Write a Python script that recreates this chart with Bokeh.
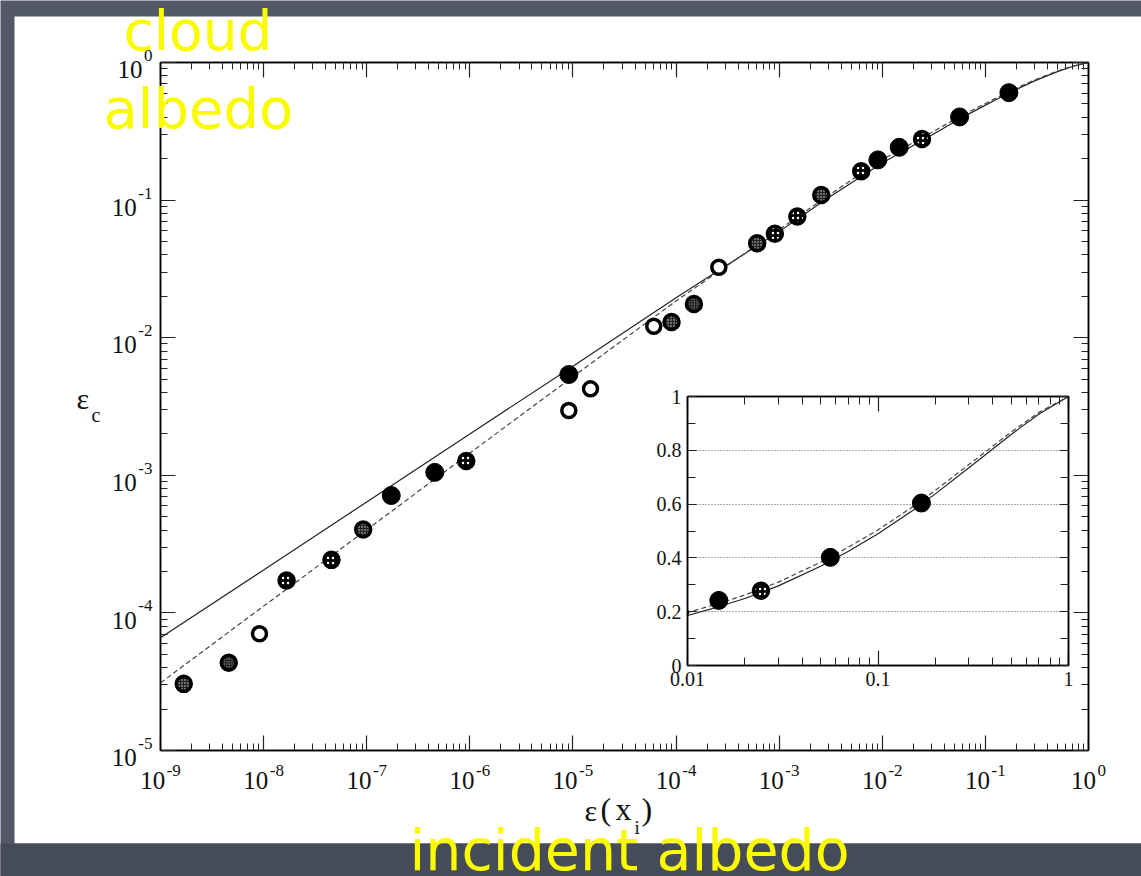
import math
from bokeh.plotting import figure
from bokeh.models import Range1d, LogAxis, LinearAxis, FixedTicker, Label, BoxAnnotation
from bokeh.embed import file_html
from bokeh.resources import INLINE

# ---------------- data ----------------
curve_x = [1e-9, 1e-8, 1e-7, 1e-6, 1e-5, 1e-4, 1e-3, 3e-3, 1e-2, 0.015, 0.02, 0.03,
           0.05, 0.07, 0.1, 0.15, 0.2, 0.3, 0.5, 0.7, 1.0]
solid_y = [6.6e-5, 2.05e-4, 6.4e-4, 2.0e-3, 6.2e-3, 1.95e-2, 5.9e-2, 0.104, 0.186, 0.221,
           0.249, 0.296, 0.369, 0.425, 0.490, 0.573, 0.638, 0.735, 0.859, 0.935, 1.0]
dashed_y = [3.1e-5, 1.12e-4, 4.02e-4, 1.45e-3, 5.2e-3, 1.85e-2, 6.1e-2, 0.108, 0.197, 0.233,
            0.262, 0.310, 0.384, 0.440, 0.504, 0.587, 0.651, 0.747, 0.868, 0.941, 1.0]

filled_x = [1.73e-7, 4.57e-7, 9.12e-6, 9.06e-3, 1.46e-2, 5.62e-2, 0.169]
filled_y = [7.13e-4, 1.05e-3, 5.40e-3, 0.196, 0.242, 0.402, 0.604]
open_x = [9.12e-9, 9.12e-6, 1.48e-5, 6.08e-5, 2.60e-4]
open_y = [7.05e-5, 2.96e-3, 4.25e-3, 1.21e-2, 3.25e-2]
checker_x = [1.68e-9, 9.24e-8, 9.04e-5, 6.12e-4, 2.56e-3]
checker_y = [3.05e-5, 4.04e-4, 1.30e-2, 4.86e-2, 0.109]
shaded_x = [4.59e-9, 1.49e-4]
shaded_y = [4.34e-5, 1.76e-2]
dotted_x = [1.67e-8, 4.55e-8, 9.23e-7, 9.08e-4, 1.50e-3, 6.25e-3, 2.43e-2]
dotted_y = [1.72e-4, 2.43e-4, 1.27e-3, 5.69e-2, 7.60e-2, 0.162, 0.278]

main_xticks = [1e-9, 1e-8, 1e-7, 1e-6, 1e-5, 1e-4, 1e-3, 1e-2, 1e-1, 1.0]
main_xtick_exps = ["-9", "-8", "-7", "-6", "-5", "-4", "-3", "-2", "-1", "0"]
main_yticks = [1e-5, 1e-4, 1e-3, 1e-2, 1e-1, 1.0]
main_ytick_exps = ["-5", "-4", "-3", "-2", "-1", "0"]

inset_xticks = [0.01, 0.1, 1.0]
inset_xtick_labels = ["0.01", "0.1", "1"]
inset_yticks = [0.0, 0.2, 0.4, 0.6, 0.8, 1.0]
inset_ytick_labels = ["0", "0.2", "0.4", "0.6", "0.8", "1"]
inset_yminor = [0.1, 0.3, 0.5, 0.7, 0.9]
inset_grid = [0.2, 0.4, 0.6, 0.8]

# ---------------- styling constants ----------------
SERIF = "Liberation Serif"
SANS = "DejaVu Sans"
DARK = "#525868"
DARK2 = "#464b59"
YELLOW = "#fbfb00"
INK = "#111111"

W, H = 1141, 876
FL, FR, FT, FB = 160, 1088, 62, 750   # main frame edges in page pixels
DX = (FR - FL) / 9.0
DY = (FB - FT) / 5.0


def abs_style(left, top):
    return {"position": "absolute", "left": "%dpx" % left, "top": "%dpx" % top}


def plain_canvas(styles=None):
    kw = dict(width=W, height=H, x_range=Range1d(0, W), y_range=Range1d(H, 0),
              output_backend="svg", toolbar_location=None,
              x_axis_location=None, y_axis_location=None, min_border=0)
    if styles:
        kw["styles"] = styles
    f = figure(**kw)
    f.outline_line_color = None
    f.xgrid.visible = False
    f.ygrid.visible = False
    return f


# ---------- layer 1: slide background with white panel ----------
bg = plain_canvas()
bg.background_fill_color = DARK
bg.border_fill_color = DARK
bg.add_layout(BoxAnnotation(left=14, right=W + 10, top=16, bottom=843, fill_color="white",
                            fill_alpha=1.0, line_color=None))
bg.add_layout(BoxAnnotation(left=-10, right=W + 10, top=843, bottom=H + 10, fill_color=DARK2,
                            fill_alpha=1.0, line_color=None))

# ---------- layer 2: the main log-log plot ----------
p = figure(width=W, height=H, x_axis_type="log", y_axis_type="log",
           x_range=Range1d(1e-9, 1.0), y_range=Range1d(1e-5, 1.0),
           output_backend="svg", toolbar_location=None,
           min_border_left=FL, min_border_right=W - FR,
           min_border_top=FT, min_border_bottom=H - FB,
           styles=abs_style(0, 0))
p.border_fill_alpha = 0.0
p.background_fill_alpha = 0.0
p.outline_line_color = "black"
p.outline_line_width = 1.5
p.xgrid.visible = False
p.ygrid.visible = False

xminor = [m * 10.0 ** k for k in range(-9, 0) for m in range(2, 10)]
yminor = [m * 10.0 ** k for k in range(-5, 0) for m in range(2, 10)]


def style_axis(ax, ticks, minor, major_len=15, minor_len=7):
    ax.ticker = FixedTicker(ticks=ticks, minor_ticks=minor)
    ax.major_tick_in = major_len
    ax.major_tick_out = 0
    ax.minor_tick_in = minor_len
    ax.minor_tick_out = 0
    ax.axis_line_width = 1.5
    ax.axis_line_color = "black"
    ax.major_tick_line_color = "#222222"
    ax.minor_tick_line_color = "#222222"
    ax.major_tick_line_width = 1.2
    ax.minor_tick_line_width = 1.0
    ax.major_label_text_color = None
    ax.major_label_text_font_size = "0px"
    ax.major_label_standoff = 0


style_axis(p.xaxis[0], main_xticks, xminor)
style_axis(p.yaxis[0], main_yticks, yminor)
top_ax = LogAxis()
style_axis(top_ax, main_xticks, xminor)
p.add_layout(top_ax, "above")
right_ax = LogAxis()
style_axis(right_ax, main_yticks, yminor)
p.add_layout(right_ax, "right")


def add_curves_and_points(fig):
    fig.line(curve_x, solid_y, line_color="#222222", line_width=1.2)
    fig.line(curve_x, dashed_y, line_color="#444444", line_width=1.2, line_dash="5 3")
    fig.scatter(open_x, open_y, marker="circle", size=14, fill_color="white",
                line_color="black", line_width=3.5)
    fig.scatter(checker_x, checker_y, marker="circle", size=15, fill_color="#222222",
                hatch_pattern="dot", hatch_color="#e0e0e0", hatch_scale=3, hatch_weight=1,
                line_color="black", line_width=3.5)
    fig.scatter(shaded_x, shaded_y, marker="circle", size=15, fill_color="#222222",
                hatch_pattern="dot", hatch_color="#a0a0a0", hatch_scale=2.5, hatch_weight=1,
                line_color="black", line_width=3.5)
    fig.scatter(dotted_x, dotted_y, marker="circle", size=15, fill_color="black",
                hatch_pattern="dot", hatch_color="white", hatch_scale=5, hatch_weight=1.6,
                line_color="black", line_width=3.5)
    fig.scatter(filled_x, filled_y, marker="circle", size=18, fill_color="black",
                line_color="black", line_width=1)


add_curves_and_points(p)

# ---------- layer 3: the inset ----------
IL, IT = 637, 386
inset = figure(width=441, height=315, x_axis_type="log",
               x_range=Range1d(0.01, 1.0), y_range=Range1d(0.0, 1.0),
               output_backend="svg", toolbar_location=None,
               min_border_left=50, min_border_right=10, min_border_top=10, min_border_bottom=36,
               styles=abs_style(IL, IT))
inset.border_fill_alpha = 0.0
inset.background_fill_color = "white"
inset.outline_line_color = "black"
inset.outline_line_width = 1.5
inset.xgrid.visible = False
inset.ygrid.ticker = FixedTicker(ticks=inset_grid)
inset.ygrid.grid_line_color = "#555555"
inset.ygrid.grid_line_dash = "1 2"
inset.ygrid.grid_line_width = 1

ixminor = [m * 10.0 ** k for k in (-2, -1) for m in range(2, 10)]


def style_inset_axis(ax, ticks, minor, labels, major_len, minor_len):
    style_axis(ax, ticks, minor, major_len, minor_len)
    if labels is not None:
        ax.major_label_overrides = {float(t): l for t, l in zip(ticks, labels)}
        ax.major_label_text_font = SERIF
        ax.major_label_text_font_size = "20px"
        ax.major_label_text_color = INK
        ax.major_label_standoff = 6


style_inset_axis(inset.xaxis[0], inset_xticks, ixminor, inset_xtick_labels, 15, 8)
style_inset_axis(inset.yaxis[0], inset_yticks, inset_yminor, inset_ytick_labels, 9, 8)
itop = LogAxis()
style_inset_axis(itop, inset_xticks, ixminor, None, 15, 8)
inset.add_layout(itop, "above")
iright = LinearAxis()
style_inset_axis(iright, inset_yticks, inset_yminor, None, 9, 8)
inset.add_layout(iright, "right")

add_curves_and_points(inset)

# ---------- layer 4: all texts of the main plot and the slide ----------
ov = plain_canvas(abs_style(0, 0))
ov.border_fill_alpha = 0.0
ov.background_fill_alpha = 0.0


def txt(text, px, py, fs, font=SERIF, color=INK, align="left"):
    # py is the wanted baseline; Bokeh puts the baseline ~k*font-size below the anchor
    k = 0.39 if font == SANS else 0.35
    ov.add_layout(Label(x=px, y=py - k * fs, text=text, text_font=font,
                        text_font_size="%dpx" % fs, text_color=color,
                        text_align=align, text_baseline="alphabetic"))


def exp_w(s, fs=17):
    return sum(0.333 * fs if c == "-" else 0.5 * fs for c in s)


for t, e in zip(main_xticks, main_xtick_exps):
    tx = FL + (math.log10(t) + 9) * DX
    w = 25 + 1.5 + exp_w(e)
    ten_r = tx - w / 2 + 25
    txt("10", ten_r, FB + 39, 25, align="right")
    txt(e, ten_r + 1.5, FB + 26, 17)
for t, e in zip(main_yticks, main_ytick_exps):
    ty = FT - math.log10(t) * DY
    txt("10", FL - 8 - exp_w(e) - 1.5, ty + 16, 25, align="right")
    txt(e, FL - 8, ty - 1, 17, align="right")

# axis titles
txt("ε", 76, 408, 30)
txt("c", 91, 421, 20)
txt("ε", 584, 820, 30)
txt("(", 600, 820, 32)
txt("x", 615, 820, 32)
txt("i", 634, 834, 19)
txt(")", 641, 820, 32)

# yellow slide annotations
txt("cloud", 123, 52, 55, font=SANS, color=YELLOW)
txt("albedo", 103, 130, 56, font=SANS, color=YELLOW)
txt("incident albedo", 409, 872, 57, font=SANS, color=YELLOW)

open("out.html", "w").write(file_html([bg, p, inset, ov], INLINE, title="cloud albedo"))
